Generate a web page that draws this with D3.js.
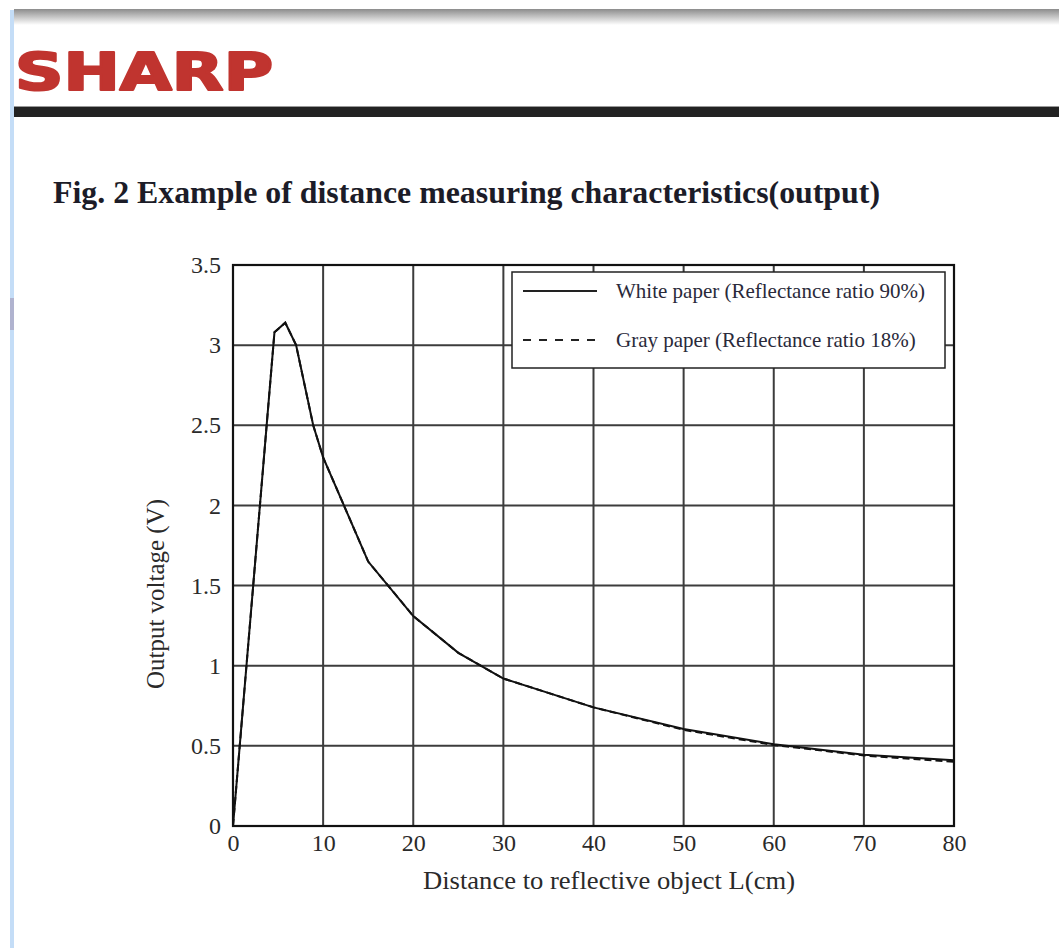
<!DOCTYPE html>
<html lang="en">
<head>
<meta charset="UTF-8">
<title>Fig. 2 Example of distance measuring characteristics(output)</title>
<script src="https://cdn.jsdelivr.net/npm/d3@7"></script>
<style>
  html, body { margin: 0; padding: 0; background: #fff; }
  svg { display: block; }
</style>
</head>
<body>
<div id="chart"></div>
<script>
// distance (cm) vs output voltage (V)
var distance = [0, 4.6, 5.8, 7, 8.9, 10, 15, 20, 25, 30, 40, 50, 60, 70, 80]
var whitePaper = [0, 3.08, 3.14, 3.0, 2.5, 2.3, 1.65, 1.31, 1.08, 0.92, 0.74, 0.605, 0.51, 0.445, 0.41]
var grayPaper = [0, 3.08, 3.14, 3.0, 2.5, 2.3, 1.65, 1.31, 1.08, 0.92, 0.74, 0.6, 0.505, 0.44, 0.40]
var xTicks = [0, 10, 20, 30, 40, 50, 60, 70, 80]
var yTicks = [0, 0.5, 1, 1.5, 2, 2.5, 3, 3.5]
var legendLabels = ["White paper (Reflectance ratio 90%)", "Gray paper (Reflectance ratio 18%)"]

var W = 1059, H = 948
var serif = "'Liberation Serif', 'Times New Roman', serif"

var svg = d3.select("#chart").append("svg").attr("width", W).attr("height", H)

// page decorations (pdf viewer look)
var defs = svg.append("defs")
var shade = defs.append("linearGradient").attr("id", "topshade").attr("x1", 0).attr("y1", 0).attr("x2", 0).attr("y2", 1)
shade.append("stop").attr("offset", "0").attr("stop-color", "#8c8c8c")
shade.append("stop").attr("offset", "1").attr("stop-color", "#ffffff")
svg.append("rect").attr("x", 14).attr("y", 9).attr("width", W - 14).attr("height", 16).attr("fill", "url(#topshade)")
svg.append("rect").attr("x", 10).attr("y", 10).attr("width", 4).attr("height", H).attr("fill", "#c4ddf7")
svg.append("rect").attr("x", 10).attr("y", 298).attr("width", 4).attr("height", 32).attr("fill", "#9c8aa8").attr("opacity", 0.5)

svg.append("text").attr("x", 15).attr("y", 90)
  .attr("font-family", "'DejaVu Sans', sans-serif").attr("font-weight", "bold").attr("font-size", 52)
  .attr("textLength", 258).attr("lengthAdjust", "spacingAndGlyphs")
  .attr("fill", "#c0342f").attr("stroke", "#c0342f").attr("stroke-width", 2.2).attr("stroke-linejoin", "round")
  .text("SHARP")

svg.append("rect").attr("x", 14).attr("y", 107).attr("width", W - 14).attr("height", 10).attr("fill", "#222")
svg.append("rect").attr("x", 14).attr("y", 106).attr("width", W - 14).attr("height", 1).attr("fill", "#999")

svg.append("text").attr("x", 53).attr("y", 203)
  .attr("font-family", serif).attr("font-weight", "bold").attr("font-size", 31.5)
  .attr("textLength", 827).attr("lengthAdjust", "spacingAndGlyphs")
  .attr("fill", "#1c1c28").text("Fig. 2 Example of distance measuring characteristics(output)")

// plot
var x = d3.scaleLinear().domain([0, 80]).range([233, 954])
var y = d3.scaleLinear().domain([0, 3.5]).range([826, 265])

var grid = svg.append("g").attr("stroke", "#3c3c3c").attr("stroke-width", 2)
grid.selectAll(".vx").data(xTicks.slice(1, -1)).join("line")
  .attr("x1", d => x(d)).attr("x2", d => x(d)).attr("y1", y(0)).attr("y2", y(3.5))
grid.selectAll(".hy").data(yTicks.slice(1, -1)).join("line")
  .attr("y1", d => y(d)).attr("y2", d => y(d)).attr("x1", x(0)).attr("x2", x(80))

svg.append("rect").attr("x", x(0)).attr("y", y(3.5)).attr("width", x(80) - x(0)).attr("height", y(0) - y(3.5))
  .attr("fill", "none").attr("stroke", "#111").attr("stroke-width", 2.2)

var xAxis = svg.append("g").attr("transform", "translate(0," + y(0) + ")")
  .call(d3.axisBottom(x).tickValues(xTicks).tickSize(0).tickPadding(10).tickFormat(d3.format("d")))
var yAxis = svg.append("g").attr("transform", "translate(" + x(0) + ",0)")
  .call(d3.axisLeft(y).tickValues(yTicks).tickSize(0).tickPadding(12).tickFormat(d => d))
;[xAxis, yAxis].forEach(a => {
  a.select(".domain").remove()
  a.selectAll("text").attr("font-family", serif).attr("font-size", 24).attr("fill", "#2a2a2a")
})
xAxis.selectAll("text").attr("transform", "translate(0,-2)")

svg.append("text").attr("x", 609).attr("y", 889).attr("text-anchor", "middle")
  .attr("font-family", serif).attr("font-size", 25).attr("fill", "#2a2a2a")
  .attr("textLength", 372).attr("lengthAdjust", "spacingAndGlyphs")
  .text("Distance to reflective object L(cm)")
svg.append("text").attr("transform", "translate(164,594) rotate(-90)").attr("text-anchor", "middle")
  .attr("font-family", serif).attr("font-size", 25).attr("fill", "#2a2a2a")
  .attr("textLength", 190).attr("lengthAdjust", "spacingAndGlyphs")
  .text("Output voltage (V)")

var line = d3.line().x(d => x(d[0])).y(d => y(d[1]))
svg.append("path").datum(distance.map((d, i) => [d, grayPaper[i]]))
  .attr("d", line).attr("fill", "none").attr("stroke", "#111").attr("stroke-width", 2).attr("stroke-dasharray", "7,4")
svg.append("path").datum(distance.map((d, i) => [d, whitePaper[i]]))
  .attr("d", line).attr("fill", "none").attr("stroke", "#111").attr("stroke-width", 2)

// legend
var lg = svg.append("g")
lg.append("rect").attr("x", 512).attr("y", 272).attr("width", 433).attr("height", 96)
  .attr("fill", "#fff").attr("stroke", "#222").attr("stroke-width", 1.5)
legendLabels.forEach((t, i) => {
  var ly = 291 + i * 49
  lg.append("line").attr("x1", 523).attr("x2", 597).attr("y1", ly).attr("y2", ly)
    .attr("stroke", "#222").attr("stroke-width", 2).attr("stroke-dasharray", i ? "8,8" : null)
  lg.append("text").attr("x", 616).attr("y", ly + 7)
    .attr("font-family", serif).attr("font-size", 21).attr("fill", "#2a2a3a").text(t)
})
</script>
</body>
</html>
